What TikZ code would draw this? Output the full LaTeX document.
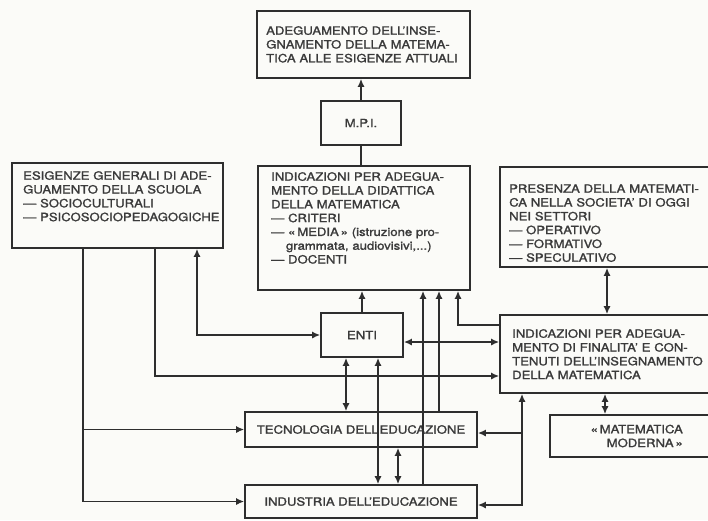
\documentclass[tikz,border=0pt]{standalone}
\usepackage{fontspec}
\setmainfont{TeX Gyre Heros}[FakeStretch=1.15,FakeBold=1.5]
\usetikzlibrary{arrows.meta}
\definecolor{ink}{HTML}{2E2E2E}
\definecolor{txtc}{HTML}{3A3A3A}
\definecolor{paper}{HTML}{FBFBF8}
\newcommand{\jl}[1]{\makebox[\hsize][s]{#1}}
\begin{document}
\begin{tikzpicture}[x=1pt,y=-1pt,
  boxwh/.style 2 args={draw=ink,line width=1.6pt,minimum width=#1,minimum height=#2,inner sep=0pt,
     text=txtc,font=\fontsize{11.4}{13.8}\selectfont},
  txtn/.style={text=txtc,inner sep=0pt,align=left,anchor=north west,
     font=\fontsize{11.4}{13.8}\selectfont},
  ln/.style={draw=ink,line width=1.6pt},
  arr/.style={ln,-{Latex[length=8pt,width=7pt]}},
  darr/.style={ln,{Latex[length=8pt,width=7pt]}-{Latex[length=8pt,width=7pt]}}]
\useasboundingbox (0,0) rectangle (708,520);
\clip (0,0) rectangle (708,520);
\fill[paper] (0,0) rectangle (708,520);

% boxes
\node[boxwh={213pt}{67pt}] (top) at (363.5,44.5) {};
\node[txtn,text width=196pt] (topT) at (266,26) {\jl{ADEGUAMENTO DELL'INSE-}\\\jl{GNAMENTO DELLA MATEMA-}\\\mbox{TICA ALLE ESIGENZE ATTUALI}};
\node[boxwh={80pt}{44pt}] (mpi) at (361,123) {M.P.I.};
\node[boxwh={211pt}{85pt}] (left) at (117.5,205.5) {};
\node[txtn,text width=195pt] (leftT) at (23,171) {\jl{ESIGENZE GENERALI DI ADE-}\\\jl{GUAMENTO DELLA SCUOLA}\\\mbox{— SOCIOCULTURALI}\\\mbox{— PSICOSOCIOPEDAGOGICHE}};
\node[boxwh={212pt}{124pt}] (center) at (364,228) {};
\node[txtn,text width=192pt] (centerT) at (271,172) {\jl{INDICAZIONI PER ADEGUA-}\\\jl{MENTO DELLA DIDATTICA}\\\mbox{DELLA MATEMATICA}\\\mbox{— CRITERI}\\\jl{— «\,MEDIA\,» (istruzione pro-}\\\hspace*{1.3em}\makebox[\dimexpr\hsize-1.3em][s]{grammata, audiovisivi,...)}\\\mbox{— DOCENTI}};
\node[boxwh={216pt}{100pt}] (rtop) at (608,217) {};
\node[txtn,text width=197pt] (rtopT) at (509,184) {\jl{PRESENZA DELLA MATEMATI-}\\\jl{CA NELLA SOCIETA' DI OGGI}\\\mbox{NEI SETTORI}\\\mbox{— OPERATIVO}\\\mbox{— FORMATIVO}\\\mbox{— SPECULATIVO}};
\node[boxwh={82pt}{44pt}] (enti) at (362,335) {ENTI};
\node[boxwh={216pt}{78pt}] (rmid) at (608,354) {};
\node[txtn,text width=191pt] (rmidT) at (512,329) {\jl{INDICAZIONI PER ADEGUA-}\\\jl{MENTO DI FINALITA' E CON-}\\\jl{TENUTI DELL'INSEGNAMENTO}\\\mbox{DELLA MATEMATICA}};
\node[boxwh={166pt}{42pt}] (mm) at (633,436) {};
\node[txtn,align=right,anchor=east] (mmT) at (683,436) {«\,MATEMATICA\\MODERNA\,»};
\node[boxwh={232pt}{35pt}] (tec) at (361,429.5) {TECNOLOGIA DELL'EDUCAZIONE};
\node[boxwh={232pt}{33pt}] (ind) at (361,501.5) {INDUSTRIA DELL'EDUCAZIONE};

% helper coordinates
\coordinate (xa) at (83,0);
\coordinate (xb) at (155,0);
\coordinate (xc) at (197,0);
\coordinate (yb) at (0,376);
\coordinate (yd) at (0,342);
\coordinate (xe) at (346,0);
\coordinate (xf) at (378,0);
\coordinate (xg) at (398,0);
\coordinate (xh) at (423,0);
\coordinate (xi) at (439,0);
\coordinate (yj) at (0,325);
\coordinate (xk) at (458,0);
\coordinate (xl) at (607,0);
\coordinate (xm) at (605,0);
\coordinate (xn) at (522,0);
\coordinate (yo) at (0,505);
\coordinate (yt) at (0,433);

% connectors
\draw[arr] (mpi.north) -- (mpi.north |- top.south);
\draw[ln] (mpi.south) -- (mpi.south |- center.north);
\draw[arr] (xa |- left.south) |- (ind.west);
\draw[arr] (xa |- tec.west) -- (tec.west);
\draw[arr] (xb |- left.south) |- (rmid.west |- yb);
\draw[darr] (xc |- left.south) |- (enti.west);
\draw[arr] (enti.north) -- (enti.north |- center.south);
\draw[darr] (enti.east |- yd) -- (rmid.west |- yd);
\draw[darr] (xe |- enti.south) -- (xe |- tec.north);
\draw[darr] (xf |- enti.south) -- (xf |- ind.north);
\draw[darr] (xg |- tec.south) -- (xg |- ind.north);
\draw[arr] (xh |- ind.north) -- (xh |- center.south);
\draw[arr] (xi |- tec.north) -- (xi |- center.south);
\draw[arr] (rmid.west |- yj) -| (xk |- center.south);
\draw[darr] (xl |- rtop.south) -- (xl |- rmid.north);
\draw[darr] (xm |- rmid.south) -- (xm |- mm.north);
\draw[darr] (xn |- rmid.south) |- (ind.east |- yo);
\draw[arr] (xn |- yt) -- (tec.east |- yt);
\end{tikzpicture}
\end{document}
